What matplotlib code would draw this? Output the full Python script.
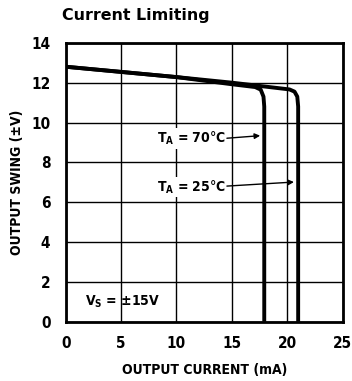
import matplotlib.pyplot as plt
from matplotlib import font_manager

# curve read-off points (output current mA, output swing V)
i_25c = [0, 5, 10, 15, 20.2, 20.65, 20.9, 20.98, 20.98]
v_25c = [12.8, 12.54, 12.28, 12.0, 11.66, 11.55, 11.3, 10.8, 0]
i_70c = [0, 5, 10, 15, 17.1, 17.6, 17.85, 17.92, 17.92]
v_70c = [12.8, 12.54, 12.28, 11.92, 11.78, 11.65, 11.3, 10.8, 0]

x_ticks = [0, 5, 10, 15, 20, 25]
y_ticks = [0, 2, 4, 6, 8, 10, 12, 14]

# pick a condensed bold face if one is around
names = {f.name for f in font_manager.fontManager.ttflist}
stretches = {(f.name, f.stretch) for f in font_manager.fontManager.ttflist}
stretch = "normal"
if "Liberation Sans Narrow" in names:
    family = "Liberation Sans Narrow"
elif ("DejaVu Sans", "condensed") in stretches:
    family = "DejaVu Sans"
    stretch = "condensed"
else:
    family = "Liberation Sans"

plt.rcParams["font.family"] = [family, "DejaVu Sans"]
plt.rcParams["font.stretch"] = stretch
plt.rcParams["font.weight"] = "bold"
plt.rcParams["mathtext.fontset"] = "custom"
plt.rcParams["mathtext.bf"] = f"{family}:bold"
plt.rcParams["mathtext.rm"] = f"{family}:bold"

fig = plt.figure(figsize=(3.52, 3.81), dpi=100)
ax = fig.add_axes([0.1866, 0.1556, 0.787, 0.732])

ax.set_xlim(0, 25)
ax.set_ylim(0, 14)
ax.set_xticks(x_ticks)
ax.set_yticks(y_ticks)
ax.grid(True, color="black", linewidth=1.0)
ax.tick_params(axis="x", length=0, labelsize=11, pad=10)
ax.tick_params(axis="y", length=0, labelsize=11, pad=11)
for lbl in ax.get_xticklabels() + ax.get_yticklabels():
    lbl.set_fontweight("bold")
for sp in ax.spines.values():
    sp.set_linewidth(2)

ax.plot(i_25c, v_25c, color="black", linewidth=2.8, solid_capstyle="butt", zorder=3)
ax.plot(i_70c, v_70c, color="black", linewidth=2.8, solid_capstyle="butt", zorder=3)

box = dict(facecolor="white", edgecolor="none", pad=1)
ax.text(8.2, 9.2, r"T$_\mathbf{A}$ = 70°C", fontsize=10, fontweight="bold",
        va="center", ha="left", bbox=box, zorder=4)
ax.annotate("", xy=(17.8, 9.35), xytext=(14.3, 9.2),
            arrowprops=dict(arrowstyle="-|>", color="black", lw=1,
                            mutation_scale=8), zorder=4)
ax.text(8.2, 6.77, r"T$_\mathbf{A}$ = 25°C", fontsize=10, fontweight="bold",
        va="center", ha="left", bbox=box, zorder=4)
ax.annotate("", xy=(20.85, 7.02), xytext=(14.3, 6.8),
            arrowprops=dict(arrowstyle="-|>", color="black", lw=1,
                            mutation_scale=8), zorder=4)
ax.text(1.7, 1.0, r"V$_\mathbf{S}$ = ±15V", fontsize=10, fontweight="bold",
        va="center", ha="left", zorder=4)

ax.set_xlabel("OUTPUT CURRENT (mA)", fontsize=10, fontweight="bold", labelpad=9)
ax.set_ylabel("OUTPUT SWING (±V)", fontsize=10, fontweight="bold", labelpad=5)
fig.text(0.175, 0.96, "Current Limiting", fontsize=11.4, fontweight="bold",
         ha="left", va="center", family="DejaVu Sans", stretch="normal")

fig.savefig("out.png", dpi=100)
